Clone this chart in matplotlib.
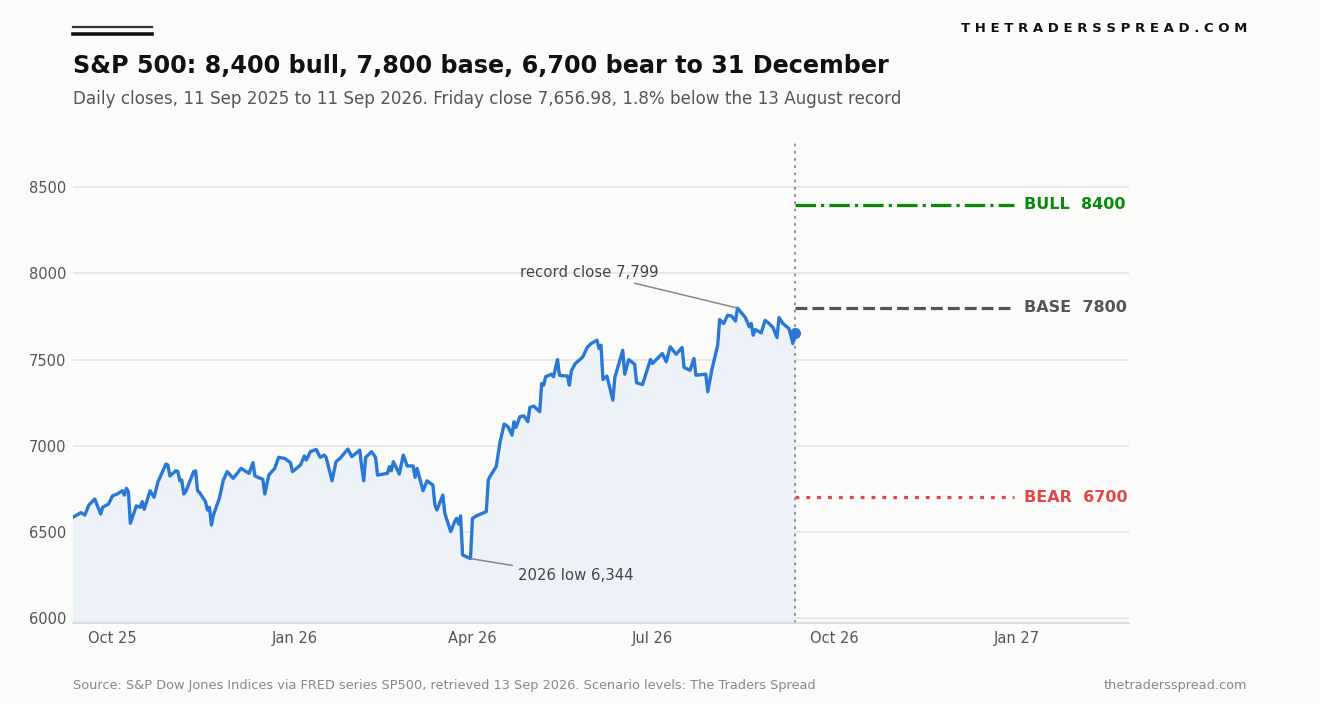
import matplotlib
matplotlib.use("Agg")
import matplotlib.pyplot as plt
import matplotlib.dates as mdates
import pandas as pd

# daily closes (turning points)
close_dates = [
    "2025-09-11", "2025-09-15", "2025-09-17", "2025-09-19", "2025-09-22", "2025-09-25", "2025-09-26",
    "2025-09-29", "2025-10-01", "2025-10-03", "2025-10-06", "2025-10-07", "2025-10-08", "2025-10-09",
    "2025-10-10", "2025-10-13", "2025-10-15", "2025-10-16", "2025-10-17", "2025-10-20", "2025-10-22",
    "2025-10-24", "2025-10-28", "2025-10-29", "2025-10-30", "2025-11-02", "2025-11-03", "2025-11-04",
    "2025-11-05", "2025-11-06", "2025-11-07", "2025-11-11", "2025-11-12", "2025-11-13", "2025-11-14",
    "2025-11-17", "2025-11-18", "2025-11-19", "2025-11-20", "2025-11-21", "2025-11-24", "2025-11-26",
    "2025-11-28", "2025-12-01", "2025-12-05", "2025-12-09", "2025-12-11", "2025-12-12", "2025-12-16",
    "2025-12-17", "2025-12-19", "2025-12-22", "2025-12-24", "2025-12-27", "2025-12-30", "2025-12-31",
    "2026-01-04", "2026-01-06", "2026-01-07", "2026-01-09", "2026-01-12", "2026-01-14", "2026-01-16",
    "2026-01-17", "2026-01-20", "2026-01-22", "2026-01-24", "2026-01-28", "2026-01-30", "2026-02-03",
    "2026-02-04", "2026-02-05", "2026-02-06", "2026-02-09", "2026-02-11", "2026-02-12", "2026-02-17",
    "2026-02-18", "2026-02-19", "2026-02-20", "2026-02-23", "2026-02-25", "2026-02-27", "2026-03-02",
    "2026-03-03", "2026-03-04", "2026-03-07", "2026-03-09", "2026-03-12", "2026-03-13", "2026-03-14",
    "2026-03-17", "2026-03-18", "2026-03-21", "2026-03-23", "2026-03-24", "2026-03-25", "2026-03-26",
    "2026-03-27", "2026-03-31", "2026-04-01", "2026-04-03", "2026-04-08", "2026-04-09", "2026-04-10",
    "2026-04-13", "2026-04-15", "2026-04-17", "2026-04-19", "2026-04-21", "2026-04-22", "2026-04-23",
    "2026-04-25", "2026-04-27", "2026-04-29", "2026-04-30", "2026-05-02", "2026-05-05", "2026-05-06",
    "2026-05-07", "2026-05-08", "2026-05-11", "2026-05-12", "2026-05-14", "2026-05-15", "2026-05-19",
    "2026-05-20", "2026-05-21", "2026-05-23", "2026-05-26", "2026-05-27", "2026-05-29", "2026-05-31",
    "2026-06-03", "2026-06-04", "2026-06-05", "2026-06-06", "2026-06-08", "2026-06-11", "2026-06-12",
    "2026-06-16", "2026-06-17", "2026-06-19", "2026-06-22", "2026-06-23", "2026-06-26", "2026-06-30",
    "2026-07-01", "2026-07-06", "2026-07-08", "2026-07-10", "2026-07-13", "2026-07-16", "2026-07-17",
    "2026-07-20", "2026-07-22", "2026-07-23", "2026-07-28", "2026-07-29", "2026-07-31", "2026-08-03",
    "2026-08-04", "2026-08-06", "2026-08-08", "2026-08-10", "2026-08-12", "2026-08-13", "2026-08-17",
    "2026-08-19", "2026-08-20", "2026-08-21", "2026-08-22", "2026-08-25", "2026-08-27", "2026-08-29",
    "2026-08-31", "2026-09-02", "2026-09-03", "2026-09-05", "2026-09-08", "2026-09-09", "2026-09-10",
    "2026-09-11",
]
close_values = [
    6584, 6611, 6597, 6655, 6690, 6603, 6642,
    6661, 6709, 6717, 6738, 6713, 6752, 6733,
    6549, 6650, 6642, 6675, 6630, 6738, 6700,
    6791, 6893, 6887, 6824, 6854, 6851, 6796,
    6800, 6719, 6733, 6849, 6853, 6738, 6727,
    6675, 6626, 6642, 6539, 6597, 6694, 6800,
    6849, 6810, 6868, 6839, 6901, 6824, 6804,
    6719, 6829, 6868, 6932, 6926, 6901, 6849,
    6887, 6940, 6916, 6965, 6978, 6932, 6945,
    6932, 6796, 6907, 6926, 6980, 6936, 6974,
    6878, 6796, 6932, 6965, 6932, 6829, 6839,
    6878, 6854, 6907, 6835, 6945, 6882, 6882,
    6816, 6868, 6738, 6796, 6771, 6655, 6626,
    6713, 6607, 6501, 6559, 6578, 6545, 6592,
    6365, 6344, 6578, 6592, 6617, 6800, 6824,
    6878, 7023, 7125, 7110, 7061, 7139, 7106,
    7168, 7173, 7139, 7222, 7230, 7197, 7361,
    7351, 7400, 7415, 7400, 7500, 7408, 7404,
    7351, 7434, 7477, 7506, 7520, 7570, 7593,
    7612, 7564, 7583, 7384, 7404, 7264, 7396,
    7554, 7415, 7500, 7473, 7365, 7355, 7500,
    7477, 7535, 7487, 7574, 7531, 7570, 7454,
    7438, 7506, 7409, 7415, 7313, 7438, 7583,
    7732, 7709, 7757, 7753, 7724, 7799, 7744,
    7690, 7709, 7641, 7674, 7655, 7728, 7709,
    7686, 7628, 7744, 7709, 7680, 7641, 7593,
    7656.98,
]

scenario_names = ["BULL", "BASE", "BEAR"]
scenario_levels = [8400, 7800, 6700]
scenario_colors = ["#0a8a0a", "#555555", "#e04848"]
scenario_styles = ["-.", "--", ":"]

last_date = pd.Timestamp("2026-09-11")
horizon = pd.Timestamp("2026-12-31")

bg = "#fbfbf9"
line_blue = "#2a78d6"

dates = pd.to_datetime(close_dates)

fig = plt.figure(figsize=(13.2, 7.04), dpi=100, facecolor=bg)
ax = fig.add_axes([73 / 1320, 1 - 623 / 704, (1129 - 73) / 1320, (623 - 140) / 704])
ax.set_facecolor(bg)

ymin, ymax = 5970, 8775
ax.set_ylim(ymin, ymax)
ax.set_xlim(pd.Timestamp("2025-09-11"), pd.Timestamp("2027-02-27"))

ax.fill_between(dates, close_values, ymin, color="#edf1f8", zorder=1)
ax.plot(dates, close_values, color=line_blue, lw=2.4, zorder=3, solid_joinstyle="round")
ax.plot([dates[-1]], [close_values[-1]], "o", color=line_blue, ms=7, zorder=4)

ax.axvline(last_date, color="#8a8a8a", lw=1.3, ls=(0, (1.5, 2.5)), zorder=2)

for name, lvl, col, ls in zip(scenario_names, scenario_levels, scenario_colors, scenario_styles):
    if ls == ":":
        style = (0, (1.2, 2.2))
    else:
        style = ls
    ax.plot([last_date, horizon], [lvl, lvl], color=col, lw=2.3, ls=style, zorder=3)
    ax.text(pd.Timestamp("2027-01-05"), lvl, f"{name}  {lvl}", color=col, fontsize=11.5,
            fontweight="bold", va="center", ha="left")

# annotations
ax.annotate("record close 7,799", xy=(pd.Timestamp("2026-08-13"), 7799),
            xytext=(pd.Timestamp("2026-04-25"), 8007), fontsize=10.7, color="#444444",
            va="center", ha="left",
            arrowprops=dict(arrowstyle="-", color="#888888", lw=1.1, shrinkA=2, shrinkB=0))
ax.annotate("2026 low 6,344", xy=(pd.Timestamp("2026-03-31"), 6344),
            xytext=(pd.Timestamp("2026-04-24"), 6244), fontsize=10.7, color="#444444",
            va="center", ha="left",
            arrowprops=dict(arrowstyle="-", color="#888888", lw=1.1, shrinkA=2, shrinkB=0))

ax.set_yticks([6000, 6500, 7000, 7500, 8000, 8500])
ax.grid(axis="y", color="#e4e4e4", lw=1.2, zorder=0)
ax.set_axisbelow(True)
ax.xaxis.set_major_locator(mdates.MonthLocator(bymonth=[1, 4, 7, 10]))
ax.xaxis.set_major_formatter(mdates.DateFormatter("%b %y"))
ax.tick_params(axis="both", length=0, labelsize=10.5, labelcolor="#555555")
ax.tick_params(axis="y", pad=4.8)
ax.tick_params(axis="x", pad=6)
for s in ["top", "right", "left"]:
    ax.spines[s].set_visible(False)
ax.spines["bottom"].set_color("#d8d8d8")
ax.spines["bottom"].set_linewidth(1.2)

# header
fig.add_artist(plt.Line2D([73 / 1320, 152 / 1320], [1 - 27 / 704] * 2, color="#333333", lw=1.6))
fig.add_artist(plt.Line2D([73 / 1320, 152 / 1320], [1 - 34 / 704] * 2, color="#111111", lw=2.6))
fig.text(73 / 1320, 1 - 66 / 704, "S&P 500: 8,400 bull, 7,800 base, 6,700 bear to 31 December",
         fontsize=17.2, fontweight="bold", color="#111111", va="center", ha="left")
fig.text(73 / 1320, 1 - 99 / 704,
         "Daily closes, 11 Sep 2025 to 11 Sep 2026. Friday close 7,656.98, 1.8% below the 13 August record",
         fontsize=12.1, color="#555555", va="center", ha="left")
fig.text(1247 / 1320, 1 - 29 / 704, " ".join("THETRADERSSPREAD.COM"), fontsize=9.5,
         fontweight="bold", color="#111111", va="center", ha="right")

# footer
fig.text(73 / 1320, 1 - 685 / 704,
         "Source: S&P Dow Jones Indices via FRED series SP500, retrieved 13 Sep 2026. Scenario levels: The Traders Spread",
         fontsize=9.25, color="#888888", va="center", ha="left")
fig.text(1247 / 1320, 1 - 685 / 704, "thetradersspread.com", fontsize=9.25, color="#888888",
         va="center", ha="right")

fig.savefig("out.png", dpi=100, facecolor=bg)
